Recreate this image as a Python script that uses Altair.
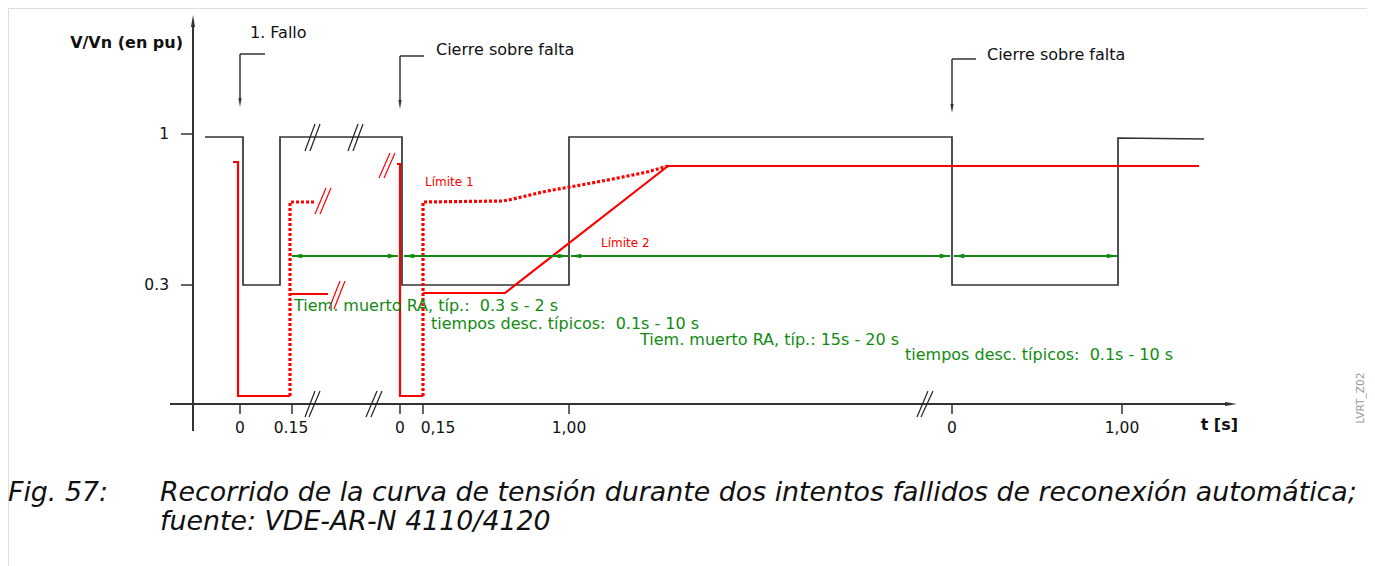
import altair as alt
import pandas as pd

# ---------------- data (diagram coordinates; x to the right, y downward) -------------
# black voltage curve
black_x = [205, 243, 243, 280, 280, 402, 402, 569, 569, 952, 952, 1118, 1118, 1204]
black_y = [137, 137, 285, 285, 137, 137, 285, 285, 137, 137, 285, 285, 138, 139]

# red solid limit curve pieces
red_grp = [1, 1, 1, 1, 2, 2, 3, 3, 3, 3, 4, 4, 4, 4]
red_x = [233, 238, 238, 290, 290, 328, 397, 400, 400, 423, 423, 505, 668, 1199]
red_y = [162, 162, 396, 396, 294, 294, 164, 164, 396, 396, 293, 293, 166, 166]

# red dotted limit curve pieces
dot_grp = [1, 1, 1, 2, 2, 2, 2, 2, 2, 2, 2, 2]
dot_x = [290, 290, 315, 423, 423, 503, 513, 547, 570, 613, 647, 668]
dot_y = [396, 202, 202, 396, 202, 201, 199, 191, 187, 179, 172, 166]

# green double arrows (time spans)
span_x1 = [292, 404, 571, 954]
span_x2 = [398, 568, 950, 1117]
span_y = [256, 256, 256, 256]

# break marks "//" (each = two slanted strokes)
brk_x1 = [305, 310, 348, 353, 305, 309, 366, 371, 917, 921]
brk_y1 = [151, 151, 151, 151, 417, 417, 417, 417, 417, 417]
brk_x2 = [315, 320, 358, 363, 315, 320, 377, 382, 928, 933]
brk_y2 = [124, 124, 124, 124, 391, 391, 391, 391, 391, 391]
rbrk_x1 = [379, 384, 315, 320, 329, 334]
rbrk_y1 = [178, 178, 214, 214, 309, 309]
rbrk_x2 = [390, 395, 326, 331, 340, 345]
rbrk_y2 = [153, 153, 188, 188, 281, 281]

# axes
yaxis_x = [193]; yaxis_y1 = [27]; yaxis_y2 = [431]
xaxis_y = [404]; xaxis_x1 = [170]; xaxis_x2 = [1226]
ytick_y = [134, 285]; ytick_lab = ["1", "0.3"]
xtick_x = [240, 292, 400, 423, 569, 952, 1122]
xtick_lab = ["0", "0.15", "0", "0,15", "1,00", "0", "1,00"]
xlab_x = [240, 291, 400, 438, 569, 952, 1122]

# annotation arrows (horizontal stub then down)
ann_x = [240, 400, 952]
ann_y0 = [54, 56, 59]
ann_xs = [265, 424, 976]
ann_tip = [107, 109, 113]
ann_text = ["1. Fallo", "Cierre sobre falta", "Cierre sobre falta"]
ann_tx = [250, 436, 987]
ann_ty = [33, 50, 55]

green_text = ["Tiem. muerto RA, típ.:  0.3 s - 2 s", "tiempos desc. típicos:  0.1s - 10 s",
              "Tiem. muerto RA, típ.: 15s - 20 s", "tiempos desc. típicos:  0.1s - 10 s"]
green_tx = [294, 431, 640, 905]
green_ty = [306, 324, 340, 355]

red_text = ["Límite 1", "Límite 2"]
red_tx = [425, 601]
red_ty = [182, 243]

caption_lines = ["Recorrido de la curva de tensión durante dos intentos fallidos de reconexión automática;",
                 "fuente: VDE-AR-N 4110/4120"]
caption_y = [493, 522]

# ---------------- scales ----------------
W, H = 1359, 570
xs = alt.Scale(domain=[8, 8 + W], nice=False, zero=False)
ys = alt.Scale(domain=[8, 8 + H], nice=False, zero=False, reverse=True)
FONT = "DejaVu Sans"
BLK = "#333333"
GRN = "#128a12"


def keep_spaces(s):
    # keep double spaces visible in SVG text
    return s.replace("  ", " \u00a0")


def X(f):
    return alt.X(f, type="quantitative", scale=xs, axis=None)


def Y(f):
    return alt.Y(f, type="quantitative", scale=ys, axis=None)


def rules(df, color, width):
    return alt.Chart(df).mark_rule(color=color, strokeWidth=width, strokeCap="butt").encode(
        x=X("x1"), y=Y("y1"), x2=alt.X2("x2"), y2=alt.Y2("y2"))


def texts(df, **kw):
    base = dict(font=FONT, baseline="middle")
    base.update(kw)
    return alt.Chart(df).mark_text(**base).encode(x=X("x"), y=Y("y"), text="t:N")


def heads(df, path, size, color):
    return alt.Chart(df).mark_point(shape=path, size=size, filled=True, opacity=1,
                                    color=color, strokeWidth=0).encode(x=X("x"), y=Y("y"))


layers = []

# axes
ax = pd.DataFrame({"x1": yaxis_x + xaxis_x1, "y1": yaxis_y1 + xaxis_y,
                   "x2": yaxis_x + xaxis_x2, "y2": yaxis_y2 + xaxis_y})
layers.append(rules(ax, BLK, 2))
ytk = pd.DataFrame({"x1": [181] * len(ytick_y), "x2": [193] * len(ytick_y), "y1": ytick_y, "y2": ytick_y})
layers.append(rules(ytk, BLK, 1.5))
xtk = pd.DataFrame({"x1": xtick_x, "x2": xtick_x, "y1": [404] * len(xtick_x), "y2": [414] * len(xtick_x)})
layers.append(rules(xtk, BLK, 1.5))
layers.append(heads(pd.DataFrame({"x": [193], "y": [21]}), "M0,-1L0.34,1L-0.34,1Z", 144, BLK))
layers.append(heads(pd.DataFrame({"x": [1231], "y": [404]}), "M1,0L-1,0.34L-1,-0.34Z", 144, BLK))

# black curve
bdf = pd.DataFrame({"x": black_x, "y": black_y, "o": list(range(len(black_x)))})
layers.append(alt.Chart(bdf).mark_line(color=BLK, strokeWidth=1.7, strokeJoin="miter").encode(
    x=X("x"), y=Y("y"), order="o:Q"))

# break marks
bk = pd.DataFrame({"x1": brk_x1, "y1": brk_y1, "x2": brk_x2, "y2": brk_y2})
layers.append(rules(bk, "#222222", 1.2))
rbk = pd.DataFrame({"x1": rbrk_x1, "y1": rbrk_y1, "x2": rbrk_x2, "y2": rbrk_y2})
layers.append(rules(rbk, "#ff0000", 1.2))

# red curves
rdf = pd.DataFrame({"x": red_x, "y": red_y, "g": red_grp, "o": list(range(len(red_x)))})
layers.append(alt.Chart(rdf).mark_line(color="#ff0000", strokeWidth=2.2, strokeJoin="miter").encode(
    x=X("x"), y=Y("y"), detail="g:N", order="o:Q"))
ddf = pd.DataFrame({"x": dot_x, "y": dot_y, "g": dot_grp, "o": list(range(len(dot_x)))})
layers.append(alt.Chart(ddf).mark_line(color="#ff0000", strokeWidth=3.2, strokeDash=[3, 2],
                                       strokeCap="butt").encode(
    x=X("x"), y=Y("y"), detail="g:N", order="o:Q"))

# green spans
gdf = pd.DataFrame({"x1": span_x1, "x2": span_x2, "y1": span_y, "y2": span_y})
layers.append(rules(gdf, GRN, 1.8))
layers.append(heads(pd.DataFrame({"x": [v + 5 for v in span_x1], "y": span_y}),
                    "M-1,0L1,0.42L1,-0.42Z", 110, GRN))
layers.append(heads(pd.DataFrame({"x": [v - 5 for v in span_x2], "y": span_y}),
                    "M1,0L-1,0.42L-1,-0.42Z", 110, GRN))

# annotation arrows
a1 = pd.DataFrame({"x1": ann_x, "x2": ann_xs, "y1": ann_y0, "y2": ann_y0})
a2 = pd.DataFrame({"x1": ann_x, "x2": ann_x, "y1": ann_y0, "y2": [t - 6 for t in ann_tip]})
layers.append(rules(a1, BLK, 1.5))
layers.append(rules(a2, BLK, 1.5))
layers.append(heads(pd.DataFrame({"x": ann_x, "y": [t - 4.5 for t in ann_tip]}),
                    "M0,1L0.36,-1L-0.36,-1Z", 81, BLK))

# texts
layers.append(texts(pd.DataFrame({"x": ann_tx, "y": ann_ty, "t": ann_text}),
                    align="left", fontSize=16, color="#111111"))
layers.append(texts(pd.DataFrame({"x": green_tx, "y": green_ty,
                                  "t": [keep_spaces(s) for s in green_text]}),
                    align="left", fontSize=16, color=GRN))
layers.append(texts(pd.DataFrame({"x": red_tx, "y": red_ty, "t": red_text}),
                    align="left", fontSize=12, color="#ff0000"))
layers.append(texts(pd.DataFrame({"x": [169, 169], "y": ytick_y, "t": ytick_lab}),
                    align="right", fontSize=15.5, color="#111111"))
layers.append(texts(pd.DataFrame({"x": xlab_x, "y": [428] * len(xlab_x), "t": xtick_lab}),
                    align="center", fontSize=15.5, color="#111111"))
layers.append(texts(pd.DataFrame({"x": [183], "y": [43], "t": ["V/Vn (en pu)"]}),
                    align="right", fontSize=16, fontWeight="bold", color="#111111"))
layers.append(texts(pd.DataFrame({"x": [1238], "y": [425], "t": ["t [s]"]}),
                    align="right", fontSize=16, fontWeight="bold", color="#111111"))
layers.append(texts(pd.DataFrame({"x": [1361], "y": [398], "t": ["LVRT_Z02"]}),
                    align="center", fontSize=10.6, angle=270, color="#9a9a9a"))
layers.append(texts(pd.DataFrame({"x": [8], "y": [caption_y[0]], "t": ["Fig. 57:"]}),
                    align="left", fontSize=26.8, fontStyle="italic", color="#111111"))
layers.append(texts(pd.DataFrame({"x": [160, 160], "y": caption_y, "t": caption_lines}),
                    align="left", fontSize=26.8, fontStyle="italic", color="#111111"))

chart = alt.layer(*layers).properties(
    width=W, height=H, autosize=alt.AutoSizeParams(type="none"), padding=0
).configure_view(stroke="transparent", strokeWidth=0).configure(background="white")

chart.save("out.html", embed_options={"renderer": "svg", "actions": False})
